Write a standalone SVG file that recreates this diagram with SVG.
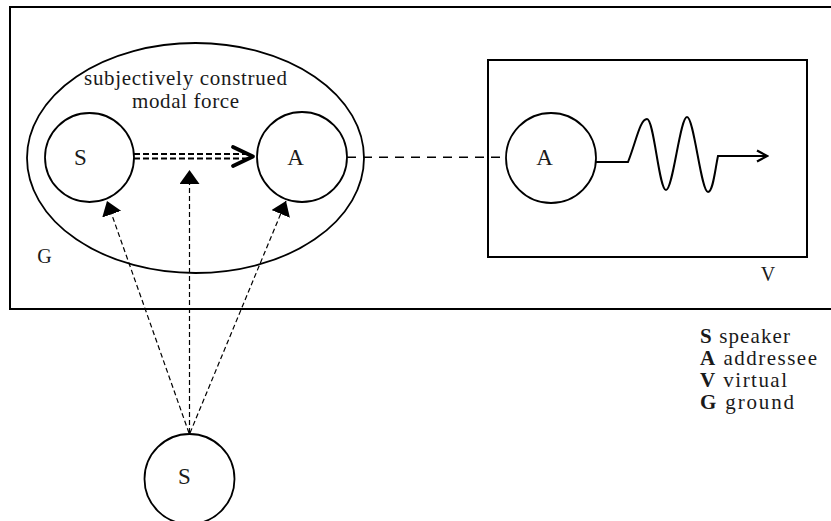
<svg xmlns="http://www.w3.org/2000/svg" width="831" height="521" viewBox="0 0 831 521">
<style>
.frame{fill:none;stroke:#000;stroke-width:2}
.node{fill:#fff;stroke:#000;stroke-width:1.8}
.lbl{font-family:"Liberation Serif","Times New Roman",serif;fill:#1a1a1a}
.big{font-size:23px;text-anchor:middle}
.cap{font-size:21px;text-anchor:middle}
.gv{font-size:20px;text-anchor:middle}
.leg{font-size:21px}
.b{font-weight:bold}
.thin{fill:none;stroke:#000;stroke-width:1.2;stroke-dasharray:5 3}
</style>
<defs>
<marker id="tri" viewBox="0 0 14 20" refX="14" refY="10" markerWidth="14" markerHeight="20" markerUnits="userSpaceOnUse" orient="auto">
<path d="M0,0 L14,10 L0,20 Z" fill="#000"/>
</marker>
<marker id="open" viewBox="0 0 14 14" refX="12" refY="7" markerWidth="14" markerHeight="14" markerUnits="userSpaceOnUse" orient="auto">
<path d="M2,1.5 L12,7 L2,12.5" fill="none" stroke="#000" stroke-width="2.2"/>
</marker>
</defs>

<g id="ground">
<rect class="frame" x="10" y="7" width="830" height="302"/>
<text class="lbl gv" x="44.5" y="263">G</text>
</g>

<g id="virtual">
<rect class="frame" x="488" y="60" width="319" height="197"/>
<text class="lbl gv" x="768" y="281">V</text>
</g>

<g id="modal-force">
<ellipse cx="195.5" cy="158" rx="168.5" ry="115" fill="none" stroke="#000" stroke-width="1.8"/>
<text class="lbl cap" x="185.5" y="85" textLength="203" lengthAdjust="spacing">subjectively construed</text>
<text class="lbl cap" x="185.5" y="108" textLength="107" lengthAdjust="spacing">modal force</text>
</g>

<g id="connectors">
<line x1="134" y1="154" x2="248" y2="154" stroke="#000" stroke-width="1.8" stroke-dasharray="6 3"/>
<line x1="134" y1="158.5" x2="248" y2="158.5" stroke="#000" stroke-width="1.8" stroke-dasharray="6 3"/>
<path d="M233,147 L253,156.5 L233,166" fill="none" stroke="#000" stroke-width="3.8" stroke-linejoin="round" stroke-linecap="round"/>
<line x1="347" y1="157.3" x2="506" y2="157.3" stroke="#000" stroke-width="1.6" stroke-dasharray="9 7"/>
<line class="thin" x1="189" y1="433" x2="107" y2="201" marker-end="url(#tri)"/>
<line class="thin" x1="189.5" y1="433" x2="189.5" y2="170" marker-end="url(#tri)"/>
<line class="thin" x1="190" y1="433" x2="286" y2="201" marker-end="url(#tri)"/>
<path d="M596,162 H628 C636,142 640,119 647,119 C654,119 659,190 666,190 C673,190 680,117 687,117 C694,117 701,192 708,192 C713,192 715,170 718,156 H767" fill="none" stroke="#000" stroke-width="2" marker-end="url(#open)"/>
</g>

<g id="node-S">
<circle class="node" cx="89.5" cy="157.5" r="44.5"/>
<text class="lbl big" x="80.5" y="165">S</text>
</g>

<g id="node-A">
<circle class="node" cx="302" cy="157" r="45"/>
<text class="lbl big" x="295.5" y="165">A</text>
</g>

<g id="node-A-virtual">
<circle class="node" cx="551" cy="158" r="45"/>
<text class="lbl big" x="544.5" y="165">A</text>
</g>

<g id="node-S-bottom">
<circle class="node" cx="189.5" cy="479" r="45"/>
<text class="lbl big" x="184.5" y="484">S</text>
</g>

<g id="legend">
<text class="lbl leg" x="700" y="343" textLength="90" lengthAdjust="spacing"><tspan class="b">S</tspan> speaker</text>
<text class="lbl leg" x="700" y="365" textLength="117" lengthAdjust="spacing"><tspan class="b">A</tspan> addressee</text>
<text class="lbl leg" x="700" y="387" textLength="87" lengthAdjust="spacing"><tspan class="b">V</tspan> virtual</text>
<text class="lbl leg" x="700" y="409" textLength="94" lengthAdjust="spacing"><tspan class="b">G</tspan> ground</text>
</g>
</svg>
